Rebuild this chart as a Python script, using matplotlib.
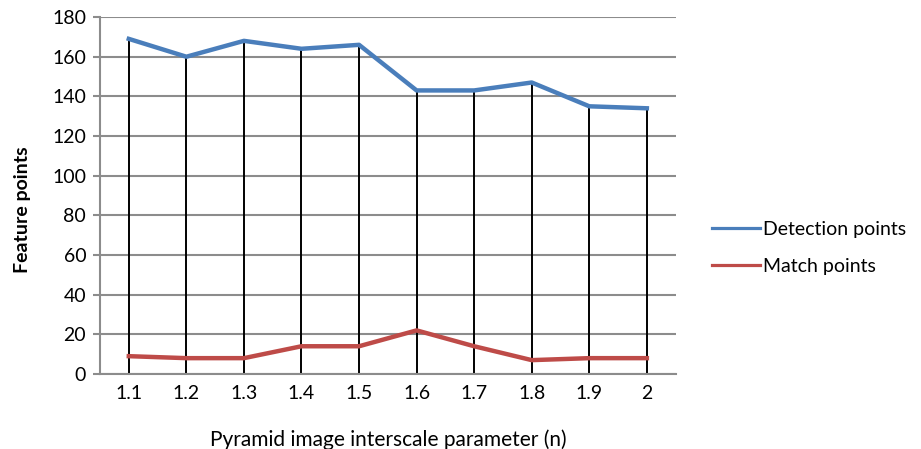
import matplotlib
matplotlib.use("Agg")
import matplotlib.pyplot as plt
import numpy as np

plt.rcParams['font.family'] = ['Lato', 'DejaVu Sans']

scale_labels = ["1.1", "1.2", "1.3", "1.4", "1.5", "1.6", "1.7", "1.8", "1.9", "2"]
detection_points = [169, 160, 168, 164, 166, 143, 143, 147, 135, 134]
match_points = [9, 8, 8, 14, 14, 22, 14, 7, 8, 8]

blue = "#4a7ebb"
red = "#be4b48"
grid_grey = "#8c8c8c"

fig = plt.figure(figsize=(9.21, 4.49), dpi=100)
ax = fig.add_axes([0.1086, 0.167, 0.625, 0.795])

x = np.arange(len(scale_labels))

# drop lines from axis up to the upper series
ax.vlines(x, 0, detection_points, color="black", lw=1.4, zorder=2)

ax.plot(x, detection_points, color=blue, lw=3.2, label="Detection points", zorder=3,
        solid_joinstyle="round")
ax.plot(x, match_points, color=red, lw=3.2, label="Match points", zorder=3,
        solid_joinstyle="round")

ax.set_xlim(-0.5, len(scale_labels) - 0.5)
ax.set_ylim(0, 180)
ax.set_yticks(np.arange(0, 181, 20))
ax.set_xticks(x)
ax.set_xticklabels(scale_labels)
ax.yaxis.grid(True, color=grid_grey, lw=1.5)
ax.set_axisbelow(True)

for s in ["top", "right"]:
    ax.spines[s].set_visible(False)
ax.spines["left"].set_color(grid_grey)
ax.spines["left"].set_linewidth(1.5)
ax.spines["bottom"].set_color(grid_grey)
ax.spines["bottom"].set_linewidth(1.5)

ax.tick_params(axis="y", length=5, width=1.5, color=grid_grey, labelsize=14, pad=5)
ax.tick_params(axis="x", length=0, labelsize=14, pad=8)

ax.set_ylabel("Feature points", fontsize=14, fontweight="bold")
ax.yaxis.set_label_coords(-0.12, 0.46)
ax.set_xlabel("Pyramid image interscale parameter (n)", fontsize=15, labelpad=20)

leg = ax.legend(loc="center left", bbox_to_anchor=(0.754, 0.448), bbox_transform=fig.transFigure,
                frameon=False, fontsize=14, handlelength=2.45, handletextpad=0.2,
                labelspacing=1.0)
for h in leg.get_lines():
    h.set_linewidth(2.3)

fig.savefig("out.png", dpi=100)
